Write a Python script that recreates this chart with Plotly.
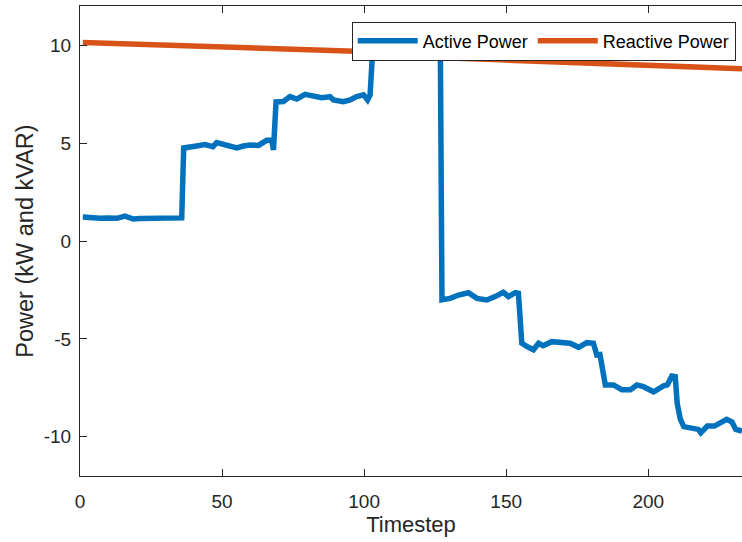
import plotly.graph_objects as go

# ---- data ----
active_t = [1, 4, 7, 10, 13, 15.8, 18.8, 21, 24.6, 28, 30.5, 33, 35.8,
            36.5, 39, 41, 44, 46.8, 48.1, 50.5, 52.8, 55.2, 57.5, 59.9, 62.8,
            65.7, 67.5, 68.1,
            69, 71.6, 73.9, 76.3, 79.2, 82.2, 85.1, 88, 89.2, 92.7, 95.1, 97.4,
            99.8, 101.2, 102.1,
            103.3, 126.8,
            127.4, 130.3, 133.2, 136.7, 139.7, 143.2, 146.1, 149, 150.8, 153.2, 154.3,
            155.5, 157.5, 159.6, 161.4, 163, 166, 169, 172.5, 175.5, 178.4, 180.7,
            181.9, 183,
            184.9, 187.8, 190.7, 193.7, 196, 198.3, 201.9, 205.4, 206.7, 208.3, 209.5,
            210.2, 211.3, 212.5, 215, 217.6, 218.5, 220.8, 223.3, 225.5, 227.6,
            229.5, 230.8, 233]
active_kw = [1.22, 1.18, 1.16, 1.18, 1.16, 1.27, 1.12, 1.15, 1.16, 1.18, 1.21, 1.18, 1.18,
             4.75, 4.78, 4.85, 4.92, 4.82, 5.02, 4.95, 4.85, 4.75, 4.85, 4.9, 4.88,
             5.14, 5.14, 4.65,
             7.1, 7.12, 7.37, 7.25, 7.49, 7.37, 7.32, 7.37, 7.2, 7.11, 7.2, 7.37,
             7.46, 7.2, 7.46,
             10.5, 10.5,
             -3.0, -2.93, -2.76, -2.64, -2.93, -3.01, -2.84, -2.62, -2.84, -2.64, -2.67,
             -5.22, -5.4, -5.55, -5.22, -5.35, -5.14, -5.2, -5.22, -5.43, -5.19, -5.22,
             -5.82, -5.8,
             -7.35, -7.35, -7.6, -7.6, -7.35, -7.44, -7.7, -7.4, -7.35, -6.9, -6.93,
             -8.3, -9.1, -9.48, -9.57, -9.62, -9.79, -9.45, -9.45, -9.3, -9.11,
             -9.25, -9.62, -9.7]

reactive_t = [1, 60, 95, 120, 127, 129, 132.6, 148, 173.7, 203, 233]
reactive_kvar = [10.13, 9.87, 9.67, 9.57, 9.55, 9.45, 9.33, 9.25, 9.1, 8.93, 8.8]

x_ticks = [0, 50, 100, 150, 200]
y_ticks = [-10, -5, 0, 5, 10]
y_tick_labels = ["-10", "-5", "0", "5", "10"]

FONT = "Liberation Sans, Arial, Helvetica, sans-serif"
TXT = "#262626"

fig = go.Figure()
fig.add_trace(go.Scatter(x=active_t, y=active_kw, mode="lines", name="Active Power",
                         line=dict(color="#0072BD", width=5.5)))
fig.add_trace(go.Scatter(x=reactive_t, y=reactive_kvar, mode="lines", name="Reactive Power",
                         line=dict(color="#D95319", width=5.5)))

fig.update_layout(
    width=742, height=542,
    margin=dict(l=80, r=0, t=6, b=66),
    paper_bgcolor="white", plot_bgcolor="white",
    font=dict(family=FONT, color=TXT, size=19),
    showlegend=True,
    legend=dict(orientation="h", x=0.9905, xanchor="right", y=0.967, yanchor="top",
                bgcolor="white", bordercolor="#262626", borderwidth=1,
                font=dict(size=18, color="#000000"), itemwidth=60,
                tracegroupgap=0),
)
fig.update_xaxes(range=[0, 233], tickvals=x_ticks, ticks="inside", ticklen=7,
                 tickcolor="#262626", showline=True, linecolor="#262626", linewidth=1,
                 mirror="ticks", showgrid=False, zeroline=False,
                 ticklabelstandoff=8,
                 title=dict(text="Timestep", font=dict(size=22), standoff=5))
fig.update_yaxes(range=[-12, 12], tickvals=y_ticks, ticktext=y_tick_labels,
                 ticks="inside", ticklen=7, tickcolor="#262626", showline=True,
                 linecolor="#262626", linewidth=1, mirror=False, showgrid=False,
                 zeroline=False, ticklabelstandoff=4,
                 title=dict(text="Power (kW and kVAR)", font=dict(size=23.5), standoff=3))

fig.write_html("out.html")
